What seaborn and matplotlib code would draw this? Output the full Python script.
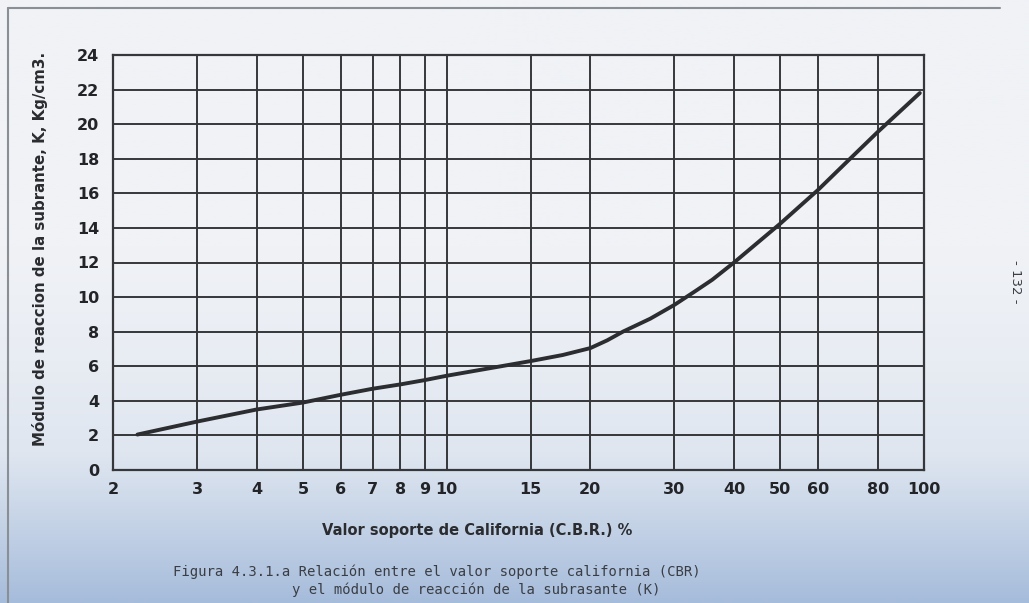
import numpy as np
import pandas as pd
import matplotlib
matplotlib.use("Agg")
import matplotlib.pyplot as plt
from matplotlib.colors import LinearSegmentedColormap
from matplotlib.lines import Line2D
import seaborn as sns

# ---- data ----
cbr = [2.25, 3, 4, 5, 6, 7, 8, 9, 10, 15, 17.5, 20, 21.7, 23.4, 26.7, 30, 33, 36,
       40, 50, 60, 70, 80, 98]
k_value = [2.05, 2.8, 3.5, 3.9, 4.35, 4.7, 4.95, 5.2, 5.45, 6.3, 6.65, 7.05, 7.5, 8.0,
           8.75, 9.55, 10.3, 11.0, 12.0, 14.25, 16.2, 18.0, 19.55, 21.8]
x_ticks = [2, 3, 4, 5, 6, 7, 8, 9, 10, 15, 20, 30, 40, 50, 60, 80, 100]
y_ticks = [0, 2, 4, 6, 8, 10, 12, 14, 16, 18, 20, 22, 24]

df = pd.DataFrame({"CBR": cbr, "K": k_value})

sns.set_style("white")
plt.rcParams['font.family'] = ['DejaVu Sans']

W, H = 1029, 603
fig = plt.figure(figsize=(W / 100, H / 100), dpi=100)

# scanned-paper background with bluish gradient at the bottom
bg = fig.add_axes([0, 0, 1, 1], zorder=-10)
grad = np.linspace(0, 1, 300)[:, None]
grad = np.clip((grad - 0.40) / 0.60, 0, 1) ** 1.3
cmap = LinearSegmentedColormap.from_list("paper", ["#f0f2f6", "#dfe6f0", "#a6bcdb"])
bg.imshow(grad, aspect="auto", cmap=cmap, extent=[0, 1, 0, 1], origin="upper")
bg.set_xlim(0, 1)
bg.set_ylim(0, 1)
bg.axis("off")
# scanner frame lines
bg.add_line(Line2D([8 / W, 1000 / W], [1 - 8 / H, 1 - 8 / H], color="#8a8f96", lw=1.5))
bg.add_line(Line2D([8 / W, 8 / W], [0, 1 - 8 / H], color="#8a8f96", lw=1.5))

ax = fig.add_axes([113 / W, 1 - 470 / H, (924 - 113) / W, (470 - 55) / H])
ax.patch.set_alpha(0)

ink = "#2b2d30"
sns.lineplot(data=df, x="CBR", y="K", ax=ax, color=ink, lw=2.8, zorder=5)

ax.set_xscale("log")
ax.set_xlim(2, 100)
ax.set_ylim(0, 24)
ax.set_xticks(x_ticks)
ax.set_xticklabels([str(t) for t in x_ticks])
ax.xaxis.set_minor_locator(matplotlib.ticker.NullLocator())
ax.set_yticks(y_ticks)
ax.set_yticklabels([str(t) for t in y_ticks])
ax.tick_params(axis="both", length=0, labelsize=11.5, colors="#222428")
ax.tick_params(axis="x", pad=9)
ax.tick_params(axis="y", pad=10)
for lab in ax.get_xticklabels() + ax.get_yticklabels():
    lab.set_fontweight("bold")

ax.grid(True, which="major", color="#35373a", lw=1.4)
for s in ax.spines.values():
    s.set_color("#35373a")
    s.set_linewidth(1.6)

ax.set_xlabel("Valor soporte de California (C.B.R.) %", fontsize=10.5,
              fontweight="bold", color="#2a2c30")
ax.xaxis.set_label_coords((477 - 113) / 811, (470 - 523) / 415)
ax.set_ylabel("Módulo de reaccion de la subrante, K, Kg/cm3.", fontsize=10.8,
              fontweight="bold", color="#2a2c30")
ax.yaxis.set_label_coords((40 - 113) / 811, (470 - 249) / 415)
ax.yaxis.label.set_va("center")

cap_font = dict(fontsize=10, color="#3a3d44", va="center", ha="left",
                family="DejaVu Sans Mono")
fig.text(173 / W, 1 - 572 / H,
         "Figura 4.3.1.a Relación entre el valor soporte california (CBR)", **cap_font)
fig.text(292 / W, 1 - 590 / H,
         "y el módulo de reacción de la subrasante (K)", **cap_font)
fig.text(1015 / W, 1 - 282 / H, "- 132 -", rotation=-90, fontsize=9.5,
         color="#3a3d44", va="center", ha="center")

fig.savefig("out.png", dpi=100)
